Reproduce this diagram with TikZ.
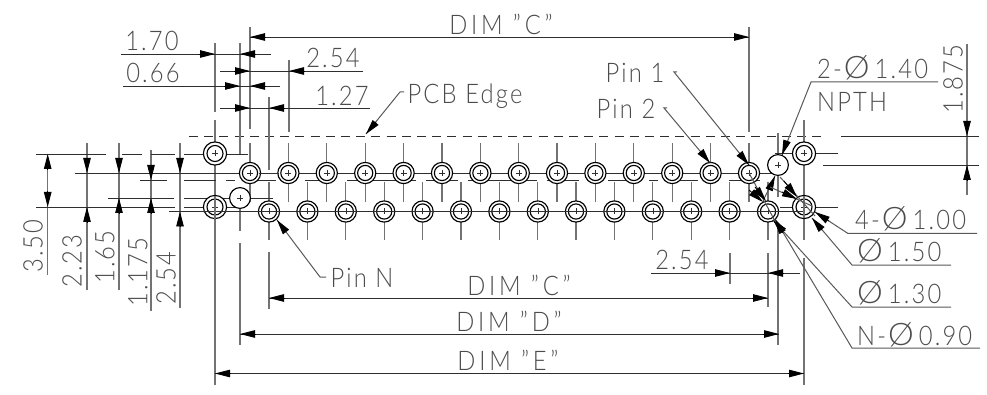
\documentclass[tikz,border=0pt]{standalone}
\usepackage{fontspec}
\usetikzlibrary{arrows.meta}
\setmainfont{Lato}[UprightFont=* Light,LetterSpace=8,FakeStretch=0.88]
\newcommand{\dia}{\hspace{2pt}{\fontsize{31}{31}\selectfont\addfontfeature{FakeStretch=1.05}Ø}\hspace{5pt}}
\definecolor{inkd}{gray}{0.18}
\definecolor{inkg}{gray}{0.45}
\definecolor{txtc}{gray}{0.3}
\tikzset{
  hl/.style={draw=inkd,line width=0.9pt},
  vl/.style={draw=inkg,line width=1.3pt},
  ldr/.style={draw=inkd!80,line width=1pt},
  tip/.style={draw=black,line width=0.9pt,-{Stealth[length=15pt,width=7.5pt,inset=0pt]},shorten >=0pt},
  lab/.style={text=txtc,inner sep=0pt,font=\fontsize{27}{27}\selectfont},
  dimlab/.style={lab,font=\fontsize{27}{27}\selectfont\addfontfeature{LetterSpace=14}},
  hole/.style={draw=black,line width=1.15pt,fill=white},
  plus/.style={draw=inkd,line width=0.6pt}
}
\newcommand{\crs}[2]{\draw[plus] (#1-3,#2)--(#1+3,#2) (#1,#2-3)--(#1,#2+3);}
\newcommand{\pinhole}[2]{\draw[hole] (#1,#2) circle (10.6); \draw[hole,fill=none] (#1,#2) circle (7.6); \crs{#1}{#2}}
\newcommand{\mnt}[2]{\draw[hole] (#1,#2) circle (11.6); \draw[hole,fill=none] (#1,#2) circle (8); \crs{#1}{#2}}
\newcommand{\npth}[2]{\draw[hole] (#1,#2) circle (10.4); \crs{#1}{#2}}
\begin{document}
\begin{tikzpicture}[x=1pt,y=-1pt]
\useasboundingbox (0,0) rectangle (987,395);
% PCB edge
\draw[hl,dash pattern=on 9pt off 6.2pt] (189,136)--(825,136);
% vertical centre/extension lines of pins
\foreach \x in {250,288.4,326.8,365.2,403.6,442,480.4,518.8,557,595.4,633.8,672.2,710.6,749}{
  \draw[vl] (\x,143)--(\x,202);}
\foreach \x in {269,307.4,345.8,384.2,422.6,461,499.4,537.8,576,614.4,652.8,691.2,729.6,768}{
  \draw[vl] (\x,182)--(\x,240);}
% extension lines
\draw[vl] (215,43)--(215,112) (215,120)--(215,385);
\draw[vl] (240,43)--(240,154) (240,198)--(240,231) (240,243)--(240,345);
\draw[vl] (250,27)--(250,129);
\draw[vl] (289,60)--(289,132);
\draw[vl] (269,97)--(269,170) (269,252)--(269,309);
\draw[vl] (749,27)--(749,132);
\draw[vl] (778,133)--(778,197) (778,223)--(778,345);
\draw[vl] (804,120)--(804,240) (804,258)--(804,385);
\draw[vl] (768,253)--(768,307);
\draw[vl] (730,253)--(730,284);
% left verticals
\draw[vl] (47.7,154)--(47.7,275);
\draw[vl] (87,143)--(87,290);
\draw[vl] (119,143)--(119,290);
\draw[vl] (151,150)--(151,311);
\draw[vl] (180,143)--(180,308);
\draw[vl] (967,44)--(967,195);
% horizontal extension lines
\draw[hl] (36,154)--(106,154) (122,154)--(142,154) (151,154)--(175,154) (184,154)--(215,154) (215,154)--(248,154);
\draw[hl] (36,207)--(175,207) (184,207)--(235,207);
\draw[hl] (75,173)--(778,173);
\foreach \a/\b in {140/167,184/216,226/235,243/276,305/335,347/416,426/458,468/537,547/579,608/642,649/658,668/698,729/760}{
  \draw[hl] (\a,180)--(\b,180);}
\draw[hl] (108,198)--(174,198) (184,198)--(229,198) (250,198)--(273,198);
\draw[hl] (841,136)--(979,136) (823,165)--(979,165);
\draw[hl] (775,153.5)--(838,153.5) (780,207)--(838,207);
% top dims
\draw[hl] (121,54)--(271,54) (123,86)--(280,86) (220,71)--(363,71) (220,108)--(370,108);
\draw[hl] (250,37)--(749,37);
\draw[tip] (266,37)--(250,37); \draw[tip] (733,37)--(749,37);
\draw[tip] (199,54)--(215,54); \draw[tip] (256,54)--(240,54);
\draw[tip] (224,86)--(240,86); \draw[tip] (266,86)--(250,86);
\draw[tip] (234,71)--(250,71); \draw[tip] (304,71)--(289,71);
\draw[tip] (234,108)--(250,108); \draw[tip] (285,108)--(269,108);
% left dim arrows
\draw[tip] (47.7,170)--(47.7,154); \draw[tip] (47.7,191)--(47.7,207);
\draw[tip] (87,158)--(87,173); \draw[tip] (87,222)--(87,207);
\draw[tip] (119,158)--(119,173); \draw[tip] (119,213)--(119,198);
\draw[tip] (151,165)--(151,180); \draw[tip] (151,213)--(151,198);
\draw[tip] (180,158)--(180,173); \draw[tip] (180,226)--(180,211.5);
% right dim
\draw[tip] (967,121)--(967,136); \draw[tip] (967,180)--(967,165);
% bottom dims
\draw[hl] (651,273)--(800,273);
\draw[tip] (715,273)--(730,273); \draw[tip] (784,273)--(768,273);
\draw[hl] (269,298)--(768,298);
\draw[tip] (285,298)--(269,298); \draw[tip] (752,298)--(768,298);
\draw[hl] (240,334)--(779,334);
\draw[tip] (256,334)--(240,334); \draw[tip] (763,334)--(779,334);
\draw[hl] (215,373.5)--(804,373.5);
\draw[tip] (231,373.5)--(215,373.5); \draw[tip] (788,373.5)--(804,373.5);
% holes
\foreach \x in {250,288.4,326.8,365.2,403.6,442,480.4,518.8,557,595.4,633.8,672.2,710.6,749}{\pinhole{\x}{173}}
\mnt{215}{153.5}\mnt{215}{207}\mnt{804}{153.5}\mnt{804}{207}
\foreach \x in {269,307.4,345.8,384.2,422.6,461,499.4,537.8,576,614.4,652.8,691.2,729.6,768}{\pinhole{\x}{211.5}}
\npth{240}{198}\npth{778}{165}
% lines running over the holes
\draw[hl] (169,211.5)--(805,211.5);
\draw[hl] (259,173)--(279,173);
\draw[vl] (215,196)--(215,219) (804,196)--(804,218);
\foreach \x in {269,307.4,345.8,384.2,422.6,461,499.4,537.8,576,614.4,652.8,691.2,729.6,768}{\draw[plus] (\x-3,211.5)--(\x+3,211.5);}
% lines and tips over the holes on the right
\draw[ldr] (763,201)--(775,176);
\draw[tip] (769,190)--(775,176);
\draw[ldr] (780,177)--(815,216);
\draw[tip] (784,181)--(797,197);
\draw[ldr] (770,187)--(812,206);
\draw[tip] (782,192)--(797,199);
\draw[ldr] (749,173)--(775,221);
\draw[tip] (749,190)--(763,202);
\draw[tip] (755,187)--(766,201);
% leaders
\draw[ldr] (404,92)--(400,92)--(366,134);
\draw[tip] (376,122)--(366,134);
\draw[ldr] (677,72)--(674,72)--(749,165);
\draw[tip] (740,154)--(749,165);
\draw[ldr] (667,108)--(664,108)--(710,163);
\draw[tip] (701,152)--(710,163);
\draw[ldr] (938,82)--(811,82)--(782,155);
\draw[tip] (787,141)--(782,155);
\draw[ldr] (326,277)--(320,277)--(277,220);
\draw[tip] (286,232)--(277,220);
\draw[ldr] (977,233.5)--(848,233.5)--(815,212);
\draw[tip] (829,221)--(815,212);
\draw[ldr] (951,265)--(852,265)--(812,218);
\draw[tip] (822,230)--(812,218);
\draw[ldr] (951,307)--(852,307)--(773,220);
\draw[tip] (783,231)--(773,220);
\draw[ldr] (980,348)--(852,348)--(775,219);
\draw[tip] (783,233)--(775,219);
% labels
\node[lab] (t170) at (152,41) {1.70};
\node[lab] (t066) at (153,73) {0.66};
\node[lab] (t254a) at (333,58) {2.54};
\node[lab] (t127) at (342,96) {1.27};
\node[dimlab] (tdimc) at (501,24) {DIM "C"};
\node[lab] (tpcb) at (465,96) {PCB Edge};
\node[lab] (tpin1) at (635,73) {Pin 1};
\node[lab] (tpin2) at (626,109) {Pin 2};
\node[lab,anchor=west] (t140) at (817,68) {2-\dia 1.40};
\node[lab,anchor=west] (tnpth) at (817,102) {NPTH};
\node[lab,rotate=90] (t1875) at (953,79) {1.875};
\node[lab,rotate=90] (t350) at (33,246) {3.50};
\node[lab,rotate=90] (t223) at (72,261) {2.23};
\node[lab,rotate=90] (t165) at (105,257) {1.65};
\node[lab,rotate=90] (t1175) at (138,272) {1.175};
\node[lab,rotate=90] (t254b) at (166,278) {2.54};
\node[lab] (tpinn) at (362,278) {Pin N};
\node[lab] (t254c) at (682,260) {2.54};
\node[dimlab] (tdimc2) at (519,285) {DIM "C"};
\node[dimlab] (tdimd) at (509,321) {DIM "D"};
\node[dimlab] (tdime) at (508,360) {DIM "E"};
\node[lab,anchor=west] (t100) at (855,219) {4-\dia 1.00};
\node[lab,anchor=west] (t150) at (855,251) {\dia 1.50};
\node[lab,anchor=west] (t130) at (855,293) {\dia 1.30};
\node[lab,anchor=west] (t090) at (857,335) {N-\dia 0.90};
\end{tikzpicture}
\end{document}
